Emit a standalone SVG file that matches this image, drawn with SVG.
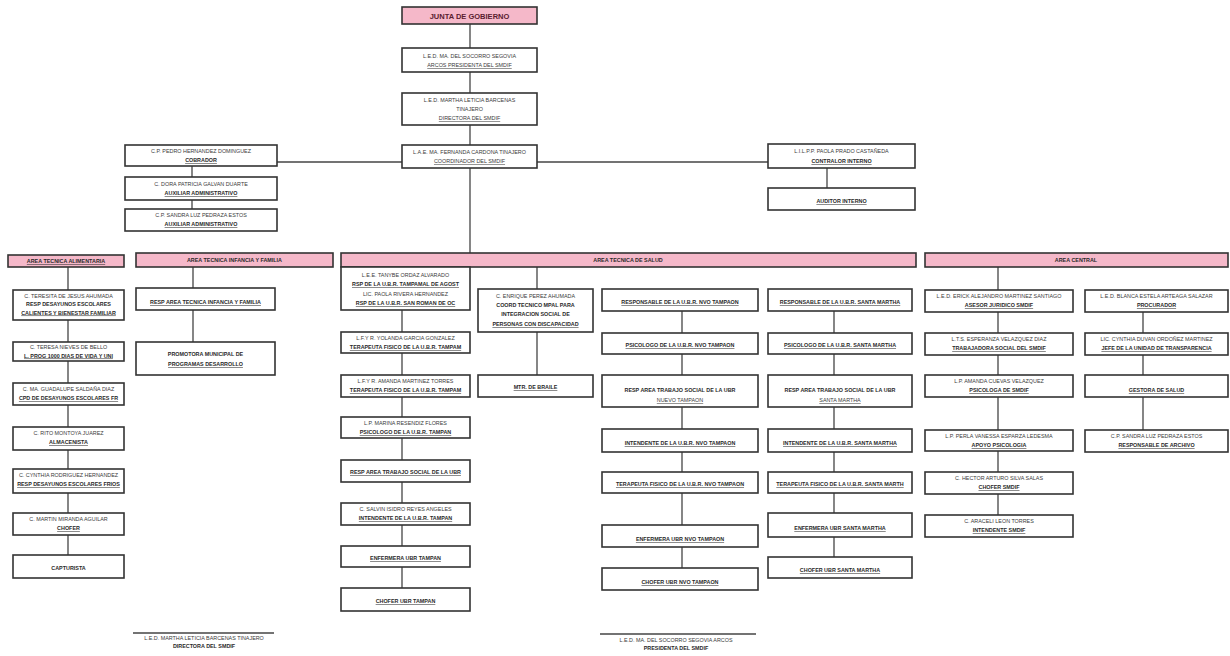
<svg xmlns="http://www.w3.org/2000/svg" width="1230" height="656" viewBox="0 0 1230 656">
<style>
.bg{fill:#ffffff}
rect.b{fill:#ffffff;stroke:#333333;stroke-width:1.6}
rect.h{fill:#f5b8c9;stroke:#333333;stroke-width:1.6}
.c line{stroke:#444444;stroke-width:1.3}
text{font-family:"Liberation Sans",Arial,sans-serif;font-size:5.4px;fill:#3a3a3a;text-anchor:middle}
text.t{font-weight:bold;text-decoration:underline;fill:#2a2a2a}
text.k{font-weight:bold;fill:#2a2a2a}
text.j{font-size:7.5px;font-weight:bold;fill:#5a2030}
</style>
<rect class="bg" width="1230" height="656"/>
<g class="c" id="connectors">
<line x1="470" y1="24" x2="470" y2="48"/>
<line x1="470" y1="72" x2="470" y2="93"/>
<line x1="470" y1="125" x2="470" y2="145"/>
<line x1="470" y1="168" x2="470" y2="253"/>
<line x1="277" y1="162" x2="402" y2="162"/>
<line x1="537" y1="162" x2="768" y2="162"/>
<line x1="192" y1="166" x2="192" y2="177"/>
<line x1="192" y1="200" x2="192" y2="209"/>
<line x1="827" y1="168" x2="827" y2="188"/>
<line x1="68" y1="267" x2="68" y2="555"/>
<line x1="193" y1="267" x2="193" y2="342"/>
<line x1="402" y1="310" x2="402" y2="588"/>
<line x1="537" y1="267" x2="537" y2="375"/>
<line x1="682" y1="311" x2="682" y2="568"/>
<line x1="834" y1="311" x2="834" y2="557"/>
<line x1="998" y1="267" x2="998" y2="515"/>
<line x1="1143" y1="312" x2="1143" y2="430"/>
<line x1="133" y1="633" x2="274" y2="633"/>
<line x1="600" y1="634" x2="756" y2="634"/>
</g>
<g id="junta"><rect class="h" x="402" y="7" width="135" height="17"/><text class="j" x="469.5" y="18.5">JUNTA DE GOBIERNO</text></g>
<g id="presidenta"><rect class="b" x="402" y="48" width="135" height="24"/><text x="469.5" y="58">L.E.D. MA. DEL SOCORRO SEGOVIA</text><text x="469.5" y="67" style="text-decoration:underline">ARCOS  PRESIDENTA DEL SMDIF</text></g>
<g id="directora"><rect class="b" x="402" y="93" width="135" height="32"/><text x="469.5" y="102">L.E.D. MARTHA LETICIA BARCENAS</text><text x="469.5" y="111">TINAJERO</text><text x="469.5" y="120" style="text-decoration:underline">DIRECTORA DEL SMDIF</text></g>
<g id="coordinador"><rect class="b" x="402" y="145" width="135" height="23"/><text x="469.5" y="154">L.A.E. MA. FERNANDA CARDONA TINAJERO</text><text x="469.5" y="163" style="text-decoration:underline">COORDINADOR DEL SMDIF</text></g>
<g id="cobrador"><rect class="b" x="125" y="145" width="152" height="21"/><text x="201" y="153">C.P. PEDRO HERNANDEZ DOMINGUEZ</text><text class="t" x="201" y="162">COBRADOR</text></g>
<g id="aux1"><rect class="b" x="125" y="177" width="152" height="23"/><text x="201" y="186">C. DORA PATRICIA GALVAN DUARTE</text><text class="t" x="201" y="195">AUXILIAR ADMINISTRATIVO</text></g>
<g id="aux2"><rect class="b" x="125" y="209" width="152" height="22"/><text x="201" y="217">C.P. SANDRA LUZ PEDRAZA ESTOS</text><text class="t" x="201" y="226">AUXILIAR ADMINISTRATIVO</text></g>
<g id="contralor"><rect class="b" x="768" y="144" width="147" height="24"/><text x="841.5" y="153">L.I.L.P.P. PAOLA PRADO CASTAÑEDA</text><text class="t" x="841.5" y="163">CONTRALOR INTERNO</text></g>
<g id="auditor"><rect class="b" x="768" y="188" width="147" height="22"/><text class="t" x="841.5" y="203">AUDITOR INTERNO</text></g>
<g id="h-alimentaria"><rect class="h" x="8" y="255" width="116" height="12"/><text class="t" x="66" y="263">AREA TECNICA ALIMENTARIA</text></g>
<g id="h-infancia"><rect class="h" x="136" y="253" width="197" height="14"/><text class="k" x="234.5" y="262">AREA TECNICA INFANCIA Y FAMILIA</text></g>
<g id="h-salud"><rect class="h" x="341" y="253" width="575" height="14"/><text class="k" x="628" y="262">AREA TECNICA DE SALUD</text></g>
<g id="h-central"><rect class="h" x="925" y="253" width="303" height="14"/><text class="k" x="1076" y="262">AREA CENTRAL</text></g>
<g id="c1-1"><rect class="b" x="13" y="290" width="111" height="30"/><text x="68.5" y="298">C. TERESITA DE JESUS AHUMADA</text><text class="k" x="68.5" y="306">RESP DESAYUNOS ESCOLARES</text><text class="t" x="68.5" y="314.5">CALIENTES Y BIENESTAR FAMILIAR</text></g>
<g id="c1-2"><rect class="b" x="13" y="342" width="111" height="19"/><text x="68.5" y="349">C. TERESA NIEVES DE BELLO</text><text class="t" x="68.5" y="357.5">L. PROG 1000 DIAS DE VIDA Y UNI</text></g>
<g id="c1-3"><rect class="b" x="13" y="383" width="111" height="22"/><text x="68.5" y="391">C. MA. GUADALUPE SALDAÑA DIAZ</text><text class="t" x="68.5" y="400">CPD DE DESAYUNOS ESCOLARES FR</text></g>
<g id="c1-4"><rect class="b" x="13" y="427" width="111" height="23"/><text x="68.5" y="435">C. RITO MONTOYA JUAREZ</text><text class="t" x="68.5" y="444">ALMACENISTA</text></g>
<g id="c1-5"><rect class="b" x="13" y="469" width="111" height="24"/><text x="68.5" y="477">C. CYNTHIA RODRIGUEZ HERNANDEZ</text><text class="t" x="68.5" y="486">RESP DESAYUNOS ESCOLARES FRIOS</text></g>
<g id="c1-6"><rect class="b" x="13" y="513" width="111" height="22"/><text x="68.5" y="521">C. MARTIN MIRANDA AGUILAR</text><text class="t" x="68.5" y="530">CHOFER</text></g>
<g id="c1-7"><rect class="b" x="13" y="555" width="111" height="23"/><text class="k" x="68.5" y="570">CAPTURISTA</text></g>
<g id="c2-1"><rect class="b" x="136" y="288" width="139" height="22"/><text class="t" x="205.5" y="304">RESP AREA TECNICA INFANCIA Y FAMILIA</text></g>
<g id="c2-2"><rect class="b" x="136" y="342" width="139" height="33"/><text class="k" x="205.5" y="356">PROMOTORA MUNICIPAL DE</text><text class="t" x="205.5" y="366">PROGRAMAS DESARROLLO</text></g>
<g id="c3-1"><rect class="b" x="341" y="267" width="129" height="43"/><text x="405.5" y="277">L.E.E. TANYBE ORDAZ ALVARADO</text><text class="t" x="405.5" y="286">RSP DE LA U.B.R. TAMPAMAL DE AGOST</text><text x="405.5" y="296">LIC. PAOLA RIVERA HERNANDEZ</text><text class="t" x="405.5" y="305">RSP DE LA U.B.R. SAN ROMAN DE OC</text></g>
<g id="c3-2"><rect class="b" x="341" y="332" width="129" height="21"/><text x="405.5" y="340">L.F.Y R. YOLANDA GARCIA GONZALEZ</text><text class="t" x="405.5" y="349">TERAPEUTA FISICO DE LA U.B.R. TAMPAM</text></g>
<g id="c3-3"><rect class="b" x="341" y="375" width="129" height="22"/><text x="405.5" y="383">L.F.Y R. AMANDA MARTINEZ TORRES</text><text class="t" x="405.5" y="392">TERAPEUTA FISICO DE LA U.B.R. TAMPAM</text></g>
<g id="c3-4"><rect class="b" x="341" y="417" width="129" height="21"/><text x="405.5" y="425">L.P. MARINA RESENDIZ FLORES</text><text class="t" x="405.5" y="434">PSICOLOGO DE LA U.B.R. TAMPAN</text></g>
<g id="c3-5"><rect class="b" x="341" y="460" width="129" height="22"/><text class="t" x="405.5" y="474">RESP AREA TRABAJO SOCIAL DE LA UBR</text></g>
<g id="c3-6"><rect class="b" x="341" y="503" width="129" height="22"/><text x="405.5" y="511">C. SALVIN ISIDRO REYES ANGELES</text><text class="t" x="405.5" y="520">INTENDENTE DE LA U.B.R. TAMPAN</text></g>
<g id="c3-7"><rect class="b" x="341" y="546" width="129" height="21"/><text class="t" x="405.5" y="560">ENFERMERA UBR TAMPAN</text></g>
<g id="c3-8"><rect class="b" x="341" y="588" width="129" height="23"/><text class="t" x="405.5" y="603">CHOFER UBR TAMPAN</text></g>
<g id="c4-1"><rect class="b" x="478" y="289" width="115" height="43"/><text x="535.5" y="298">C. ENRIQUE PEREZ AHUMADA</text><text class="k" x="535.5" y="307">COORD TECNICO MPAL PARA</text><text class="k" x="535.5" y="316">INTEGRACION SOCIAL DE</text><text class="t" x="535.5" y="326">PERSONAS CON DISCAPACIDAD</text></g>
<g id="c4-2"><rect class="b" x="478" y="375" width="115" height="22"/><text class="t" x="535.5" y="389">MTR. DE BRAILE</text></g>
<g id="c5-1"><rect class="b" x="602" y="289" width="156" height="22"/><text class="t" x="680" y="304">RESPONSABLE DE LA U.B.R. NVO TAMPAON</text></g>
<g id="c5-2"><rect class="b" x="602" y="333" width="156" height="21"/><text class="t" x="680" y="347">PSICOLOGO DE LA U.B.R. NVO TAMPAON</text></g>
<g id="c5-3"><rect class="b" x="602" y="375" width="156" height="32"/><text class="k" x="680" y="392">RESP AREA TRABAJO SOCIAL DE LA UBR</text><text x="680" y="402" style="text-decoration:underline">NUEVO TAMPAON</text></g>
<g id="c5-4"><rect class="b" x="602" y="429" width="156" height="23"/><text class="t" x="680" y="445">INTENDENTE DE LA U.B.R. NVO TAMPAON</text></g>
<g id="c5-5"><rect class="b" x="602" y="472" width="156" height="21"/><text class="t" x="680" y="486">TERAPEUTA FISICO DE LA U.B.R. NVO TAMPAON</text></g>
<g id="c5-6"><rect class="b" x="602" y="525" width="156" height="22"/><text class="t" x="680" y="541">ENFERMERA UBR NVO TAMPAON</text></g>
<g id="c5-7"><rect class="b" x="602" y="568" width="156" height="22"/><text class="t" x="680" y="584">CHOFER UBR NVO TAMPAON</text></g>
<g id="c6-1"><rect class="b" x="768" y="289" width="144" height="22"/><text class="t" x="840" y="304">RESPONSABLE DE LA U.B.R. SANTA MARTHA</text></g>
<g id="c6-2"><rect class="b" x="768" y="333" width="144" height="21"/><text class="t" x="840" y="347">PSICOLOGO DE LA U.B.R. SANTA MARTHA</text></g>
<g id="c6-3"><rect class="b" x="768" y="375" width="144" height="32"/><text class="k" x="840" y="392">RESP AREA TRABAJO SOCIAL DE LA UBR</text><text x="840" y="402" style="text-decoration:underline">SANTA MARTHA</text></g>
<g id="c6-4"><rect class="b" x="768" y="429" width="144" height="23"/><text class="t" x="840" y="445">INTENDENTE DE LA U.B.R. SANTA MARTHA</text></g>
<g id="c6-5"><rect class="b" x="768" y="472" width="144" height="21"/><text class="t" x="840" y="486">TERAPEUTA FISICO DE LA U.B.R. SANTA MARTH</text></g>
<g id="c6-6"><rect class="b" x="768" y="513" width="144" height="24"/><text class="t" x="840" y="530">ENFERMERA UBR SANTA MARTHA</text></g>
<g id="c6-7"><rect class="b" x="768" y="557" width="144" height="21"/><text class="t" x="840" y="572">CHOFER UBR SANTA MARTHA</text></g>
<g id="c7-1"><rect class="b" x="925" y="290" width="148" height="22"/><text x="999" y="298">L.E.D. ERICK ALEJANDRO MARTINEZ SANTIAGO</text><text class="t" x="999" y="307">ASESOR JURIDICO SMDIF</text></g>
<g id="c7-2"><rect class="b" x="925" y="333" width="148" height="22"/><text x="999" y="341">L.T.S. ESPERANZA VELAZQUEZ DIAZ</text><text class="t" x="999" y="350">TRABAJADORA SOCIAL DEL SMDIF</text></g>
<g id="c7-3"><rect class="b" x="925" y="375" width="148" height="22"/><text x="999" y="383">L.P. AMANDA CUEVAS VELAZQUEZ</text><text class="t" x="999" y="392">PSICOLOGA DE SMDIF</text></g>
<g id="c7-4"><rect class="b" x="925" y="430" width="148" height="21"/><text x="999" y="438">L.P. PERLA VANESSA ESPARZA LEDESMA</text><text class="t" x="999" y="447">APOYO PSICOLOGIA</text></g>
<g id="c7-5"><rect class="b" x="925" y="472" width="148" height="22"/><text x="999" y="480">C. HECTOR ARTURO SILVA SALAS</text><text class="t" x="999" y="489">CHOFER SMDIF</text></g>
<g id="c7-6"><rect class="b" x="925" y="515" width="148" height="22"/><text x="999" y="523">C. ARACELI LEON TORRES</text><text class="t" x="999" y="532">INTENDENTE SMDIF</text></g>
<g id="c8-1"><rect class="b" x="1085" y="290" width="143" height="22"/><text x="1156.5" y="298">L.E.D. BLANCA ESTELA ARTEAGA SALAZAR</text><text class="t" x="1156.5" y="307">PROCURADOR</text></g>
<g id="c8-2"><rect class="b" x="1085" y="333" width="143" height="22"/><text x="1156.5" y="341">LIC. CYNTHIA DUVAN ORDOÑEZ MARTINEZ</text><text class="t" x="1156.5" y="350">JEFE DE LA UNIDAD DE TRANSPARENCIA</text></g>
<g id="c8-3"><rect class="b" x="1085" y="375" width="143" height="22"/><text class="t" x="1156.5" y="392">GESTORA DE SALUD</text></g>
<g id="c8-4"><rect class="b" x="1085" y="430" width="143" height="22"/><text x="1156.5" y="438">C.P. SANDRA LUZ PEDRAZA ESTOS</text><text class="t" x="1156.5" y="447">RESPONSABLE DE ARCHIVO</text></g>
<g id="firma-directora"><text x="204" y="640">L.E.D. MARTHA LETICIA BARCENAS TINAJERO</text><text class="k" x="204" y="648">DIRECTORA DEL SMDIF</text></g>
<g id="firma-presidenta"><text x="676" y="642">L.E.D. MA. DEL SOCORRO SEGOVIA ARCOS</text><text class="k" x="676" y="650">PRESIDENTA DEL SMDIF</text></g>
</svg>
